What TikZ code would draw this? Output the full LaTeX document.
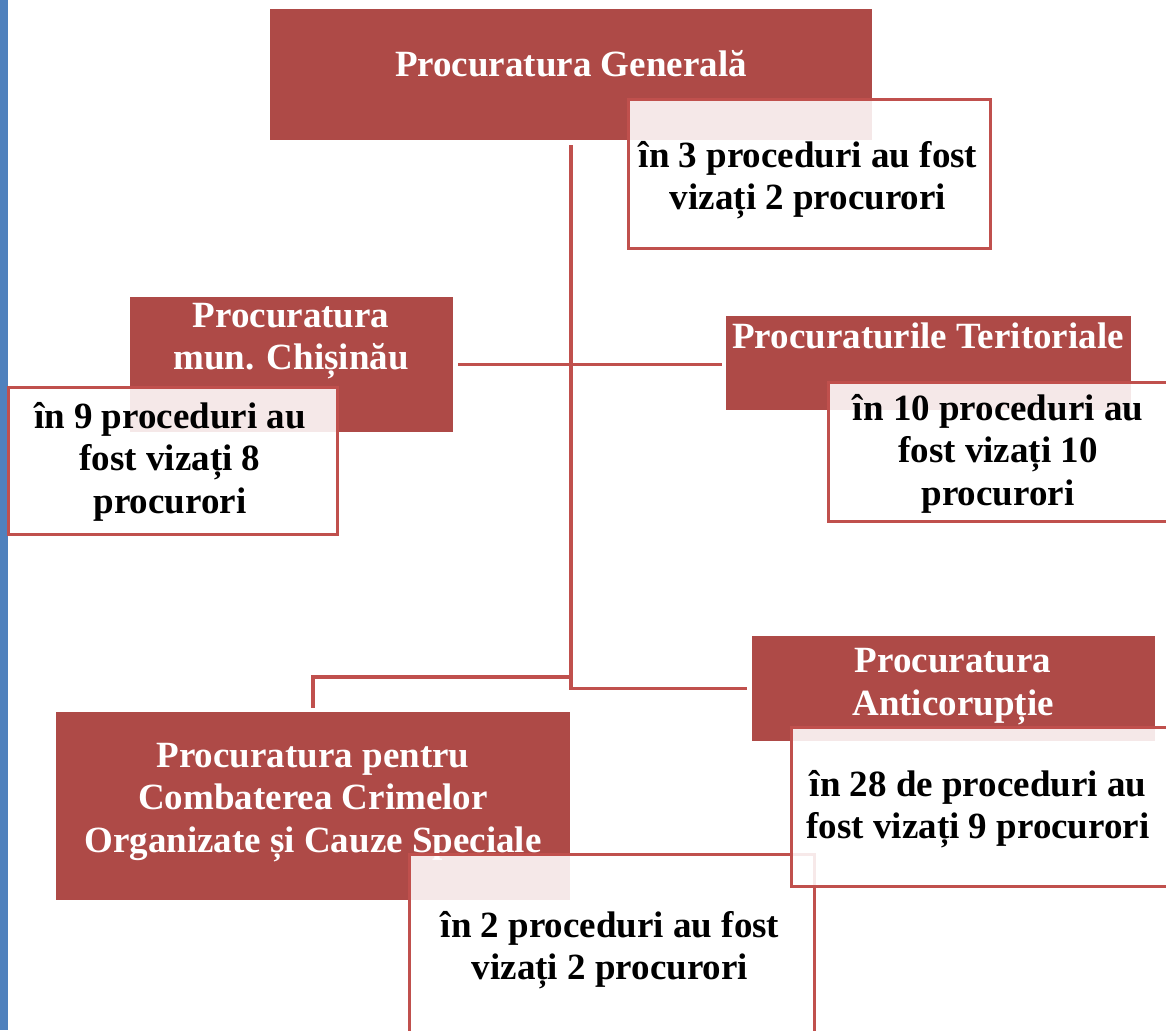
\documentclass[tikz,border=0pt]{standalone}
\usepackage{fontspec}
\setmainfont{Liberation Serif}
\definecolor{unitred}{HTML}{AE4A47}
\definecolor{framered}{HTML}{C0504D}
\definecolor{sidebar}{HTML}{4F81BD}
\tikzset{
	unit/.style={fill=unitred, inner sep=0pt, anchor=north west},
	note/.style={draw=framered, line width=3pt, fill=white, fill opacity=0.88, inner sep=0pt, anchor=north west},
	unitname/.style={text=white, align=center, inner sep=0pt, font=\bfseries\fontsize{37}{42.5}\selectfont},
	notetext/.style={text=black, align=center, inner sep=0pt, font=\bfseries\fontsize{37}{42.5}\selectfont},
	link/.style={draw=framered, line width=3.5pt}
}
\begin{document}
\begin{tikzpicture}[x=1pt,y=-1pt]
	\useasboundingbox (0,0) rectangle (1166,1030);
	\clip (0,0) rectangle (1166,1030);
	\fill[sidebar] (0,0) rectangle (8,1030);
	% units
	\node[unit, minimum width=602pt, minimum height=131pt] (gen) at (270,9) {};
	\node[unitname] (gen-t) at (571,64) {Procuratura Generală};
	\node[note, minimum width=362pt, minimum height=149pt] (gen-n) at (627,98) {};
	\node[notetext] (gen-nt) at (808,180) {în 3 proceduri au fost\\vizați 2 procurori};
	\node[unit, minimum width=323pt, minimum height=135pt] (chis) at (130,297) {};
	\node[unitname] (chis-t) at (291,341) {Procuratura\\mun. Chișinău};
	\node[note, minimum width=329pt, minimum height=147pt] (chis-n) at (6.5,386) {};
	\node[notetext] (chis-nt) at (170,461.5) {în 9 proceduri au\\fost vizați 8\\procurori};
	\node[unit, minimum width=405pt, minimum height=94pt] (terit) at (726,316) {};
	\node[unitname] (terit-t) at (928,335.5) {Procuraturile Teritoriale};
	\node[note, minimum width=344pt, minimum height=139pt] (terit-n) at (827,381) {};
	\node[notetext] (terit-nt) at (998,453.5) {în 10 proceduri au\\fost vizați 10\\procurori};
	\node[unit, minimum width=514pt, minimum height=188pt] (cco) at (56,712) {};
	\node[unitname] (cco-t) at (313,802.5) {Procuratura pentru\\Combaterea Crimelor\\Organizate și Cauze Speciale};
	\node[note, minimum width=405pt, minimum height=187pt] (cco-n) at (408,853) {};
	\node[notetext] (cco-nt) at (610,950) {în 2 proceduri au fost\\vizați 2 procurori};
	\node[unit, minimum width=403pt, minimum height=105pt] (anti) at (752,636) {};
	\node[unitname] (anti-t) at (953,686.5) {Procuratura\\Anticorupție};
	\node[note, minimum width=378pt, minimum height=159pt] (anti-n) at (790,726) {};
	\node[notetext] (anti-nt) at (978,809) {în 28 de proceduri au\\fost vizați 9 procurori};
	% connectors
	\coordinate (fork) at (571,677);
	\draw[link, shorten <=5pt, shorten >=5pt] (gen.south) |- (anti.west);
	\draw[link, shorten <=5pt, shorten >=4pt] (chis.east) -- (chis.east -| terit.west);
	\draw[link, shorten >=4pt] (fork) -| (cco.north);
\end{tikzpicture}
\end{document}
